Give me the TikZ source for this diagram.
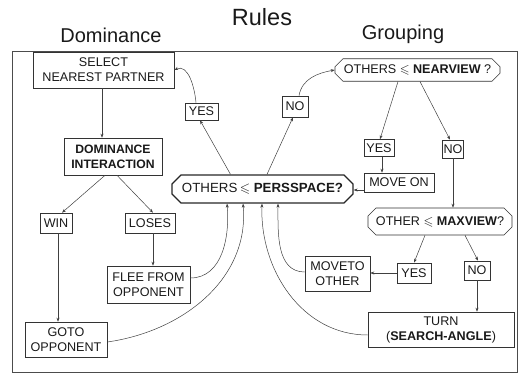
\documentclass[tikz,border=0pt]{standalone}
\usepackage{fontspec}
\usepackage{amssymb}
\setmainfont{Liberation Sans}
\usetikzlibrary{shapes.misc,arrows.meta}
\begin{document}
\begin{tikzpicture}[x=1pt,y=-1pt,
  box/.style={draw=black!80, line width=0.6pt, inner sep=0pt, align=center,
    font=\fontsize{12.6}{15}\selectfont, text=black!90},
  test/.style={box, chamfered rectangle, chamfered rectangle xsep=2pt,
    chamfered rectangle ysep=6pt},
  conn/.style={draw=black!75, line width=0.5pt, -{Stealth[length=4pt,width=3pt]}},
  heading/.style={anchor=base, text=black!90}]
\useasboundingbox (0,0) rectangle (519,374);
% outer frame
\draw[black!70, line width=0.6pt] (12,51) rectangle (517,372);
% headings
\node[heading, font=\fontsize{23.5}{26}\selectfont] (ttl) at (262,26) {Rules};
\node[heading, font=\fontsize{20}{22}\selectfont] (hdom) at (111,43) {Dominance};
\node[heading, font=\fontsize{20}{22}\selectfont] (hgrp) at (403,40) {Grouping};

% dominance side
\node[box, minimum width=141pt, minimum height=36pt] (sel) at (103.5,70) {SELECT\\NEAREST PARTNER};
\node[box, minimum width=98pt, minimum height=37pt, font=\bfseries\fontsize{12.2}{15}\selectfont] (dom) at (113,156.5) {DOMINANCE\\INTERACTION};
\node[box, minimum width=32pt, minimum height=20pt] (win) at (56,223) {WIN};
\node[box, minimum width=50pt, minimum height=20pt] (loses) at (150,223) {LOSES};
\node[box, minimum width=83pt, minimum height=37pt] (flee) at (148.5,284.5) {FLEE FROM\\OPPONENT};
\node[box, minimum width=82pt, minimum height=35pt] (goto) at (66,339.5) {GOTO\\OPPONENT};
\node[box, minimum width=33pt, minimum height=17pt] (yesL) at (201.5,111.5) {YES};

% central test
\node[test, line width=1.3pt, draw=black!85, chamfered rectangle ysep=7pt,
  font=\fontsize{13.3}{15}\selectfont,
  minimum width=181pt, minimum height=28pt] (cen) at (262.5,189)
  {OTHERS$\,\leqslant$ \textbf{PERSSPACE?}};
\node[box, minimum width=26pt, minimum height=21pt] (noT) at (295,106.5) {NO};

% grouping side
\node[test, minimum width=165pt, minimum height=19pt] (near) at (417.5,70)
  {OTHERS $\leqslant$ \textbf{NEARVIEW} ?};
\node[box, minimum width=30pt, minimum height=17pt] (yesR) at (379,148) {YES};
\node[box, minimum width=21pt, minimum height=18pt] (noR) at (453,149) {NO};
\node[box, minimum width=70pt, minimum height=19pt] (moveon) at (399,182.5) {MOVE ON};
\node[test, minimum width=144pt, minimum height=27pt] (max) at (440,221.5)
  {OTHER $\leqslant$ \textbf{MAXVIEW}?};
\node[box, minimum width=34pt, minimum height=20pt] (yesB) at (414,273) {YES};
\node[box, minimum width=26pt, minimum height=19pt] (noB) at (477,270.5) {NO};
\node[box, minimum width=65pt, minimum height=35pt] (moveto) at (337.5,273.5) {MOVETO\\OTHER};
\node[box, minimum width=146pt, minimum height=35pt] (turn) at (441,329.5) {TURN\\(\textbf{SEARCH-ANGLE})};

% dominance connectors
\draw[conn] ([xshift=-1.5pt]sel.south) -- ([xshift=-11pt]dom.north);
\draw[conn] ([xshift=-8pt]dom.south) -- ([xshift=6pt]win.north);
\draw[conn] ([xshift=4pt]dom.south) -- ([xshift=3pt]loses.north);
\draw[conn] ([xshift=2pt]win.south) -- ([xshift=-8pt]goto.north);
\draw[conn] ([xshift=3pt]loses.south) -- ([xshift=4.5pt]flee.north);
\draw[conn] ([yshift=6.5pt]flee.east) to[out=0,in=-85] ([xshift=-35.5pt]cen.south);
\draw[conn] ([yshift=-2.5pt]goto.east) to[out=8,in=-85] ([xshift=-19.5pt]cen.south);

% central test outcomes
\draw[conn] ([xshift=-32pt]cen.north) -- ([xshift=-1.5pt]yesL.south);
\draw[conn] ([xshift=-5.5pt]yesL.north) to[out=95,in=25] (sel.east);
\draw[conn] ([xshift=4.5pt]cen.north) -- ([xshift=-2pt]noT.south);
\draw[conn] ([xshift=4pt]noT.north) to[out=80,in=190] (near.west);

% grouping connectors
\draw[conn] ([xshift=-19.5pt]near.south) -- ([xshift=1pt]yesR.north);
\draw[conn] ([xshift=2.5pt]near.south) -- ([xshift=-3pt]noR.north);
\draw[conn] ([xshift=3pt]yesR.south) -- ([xshift=-17pt]moveon.north);
\draw[conn] ([yshift=-7.5pt]moveon.west) -- ([yshift=-1pt]cen.east);
\draw[conn] (noR.south) -- ([xshift=13pt]max.north);
\draw[conn] ([xshift=-15pt]max.south) -- (yesB.north);
\draw[conn] ([xshift=25pt]max.south) -- ([xshift=1pt]noB.north);
\draw[conn] (yesB.west) -- ([yshift=0.5pt]moveto.east);
\draw[conn] (noB.south) -- ([xshift=36pt]turn.north);
\draw[conn] ([yshift=1.5pt]moveto.west) to[out=180,in=-90] ([xshift=15.5pt]cen.south);
\draw[conn] ([yshift=-5.5pt]turn.west) to[out=180,in=-92] ([xshift=-0.5pt]cen.south);
\end{tikzpicture}
\end{document}
